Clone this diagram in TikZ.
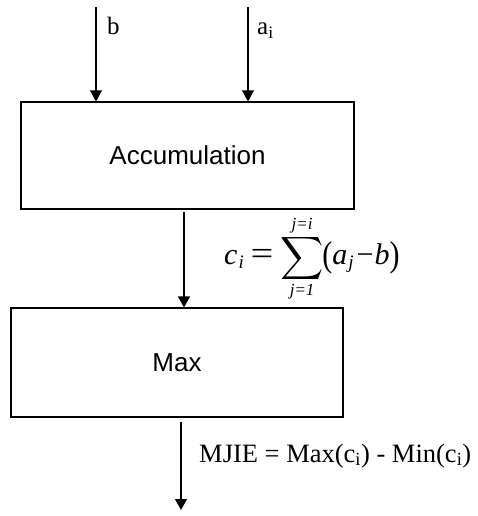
\documentclass[tikz,border=0pt]{standalone}
\usepackage{fontspec}
\setmainfont{Liberation Serif}
\setsansfont{Liberation Sans}
\usetikzlibrary{arrows.meta}
\newcommand{\bigsum}{\mathop{\vcenter{\hbox{\scalebox{3.0}{\fontsize{10}{12}\selectfont$\displaystyle\sum$}}}}}
\newcommand{\limtxt}[1]{\hbox{\fontsize{17}{17}\selectfont\itshape #1}}
\newcommand{\subtxt}[1]{\raisebox{-4pt}{\fontsize{19}{20}\selectfont\itshape #1}}
\newcommand{\tallparen}[1]{\raisebox{-2pt}{\scalebox{1}[1.2]{#1}}}
\newcommand{\wideeq}{\mathrel{\hbox{\scalebox{1.35}[1.1]{=}}}}
\begin{document}
\begin{tikzpicture}[x=1pt,y=-1pt,
  blk/.style={draw,line width=1.2pt,rectangle,inner sep=0pt,font=\sffamily\fontsize{26}{30}\selectfont},
  flow/.style={line width=1.2pt,-{Triangle[width=12pt,length=11pt]}},
  lbl/.style={inner sep=0pt,font=\fontsize{25}{30}\selectfont}]
\useasboundingbox (0,0) rectangle (478,516);
\node[blk,minimum width=333pt,minimum height=107pt] (acc) at (187.5,155.5) {Accumulation};
\node[blk,minimum width=332pt,minimum height=109pt] (max) at (177,362.5) {Max};
\coordinate (bin) at (96,7);
\coordinate (ain) at (248,7);
\coordinate (out) at (181,510);
\draw[flow] (bin) -- (bin |- acc.north);
\draw[flow] (ain) -- (ain |- acc.north);
\draw[flow] (184,0 |- acc.south) ++(0,2) -- (184,0 |- max.north);
\draw[flow] ([yshift=-4pt]out |- max.south) -- (out);
\node[lbl,anchor=base west] (lb) at (107,35) {b};
\node[lbl,anchor=base west] (la) at (257,35) {a\textsubscript{i}};
\node[inner sep=0pt,anchor=west] (form) at (224,259) {\fontsize{30}{34}\selectfont
  $\hbox{\itshape c\kern1pt\subtxt{i}}\wideeq\bigsum\limits^{\limtxt{j=i}}_{\limtxt{j=1}}\mkern-4mu\hbox{\tallparen{(}\itshape a\kern1pt\subtxt{j}\upshape\kern3pt−\kern1pt\itshape b\upshape\tallparen{)}}$};
\node[lbl,anchor=base west,font=\fontsize{26.5}{30}\selectfont] (mj) at (199,462) {MJIE = Max(c\textsubscript{i}) - Min(c\textsubscript{i})};
\end{tikzpicture}
\end{document}
